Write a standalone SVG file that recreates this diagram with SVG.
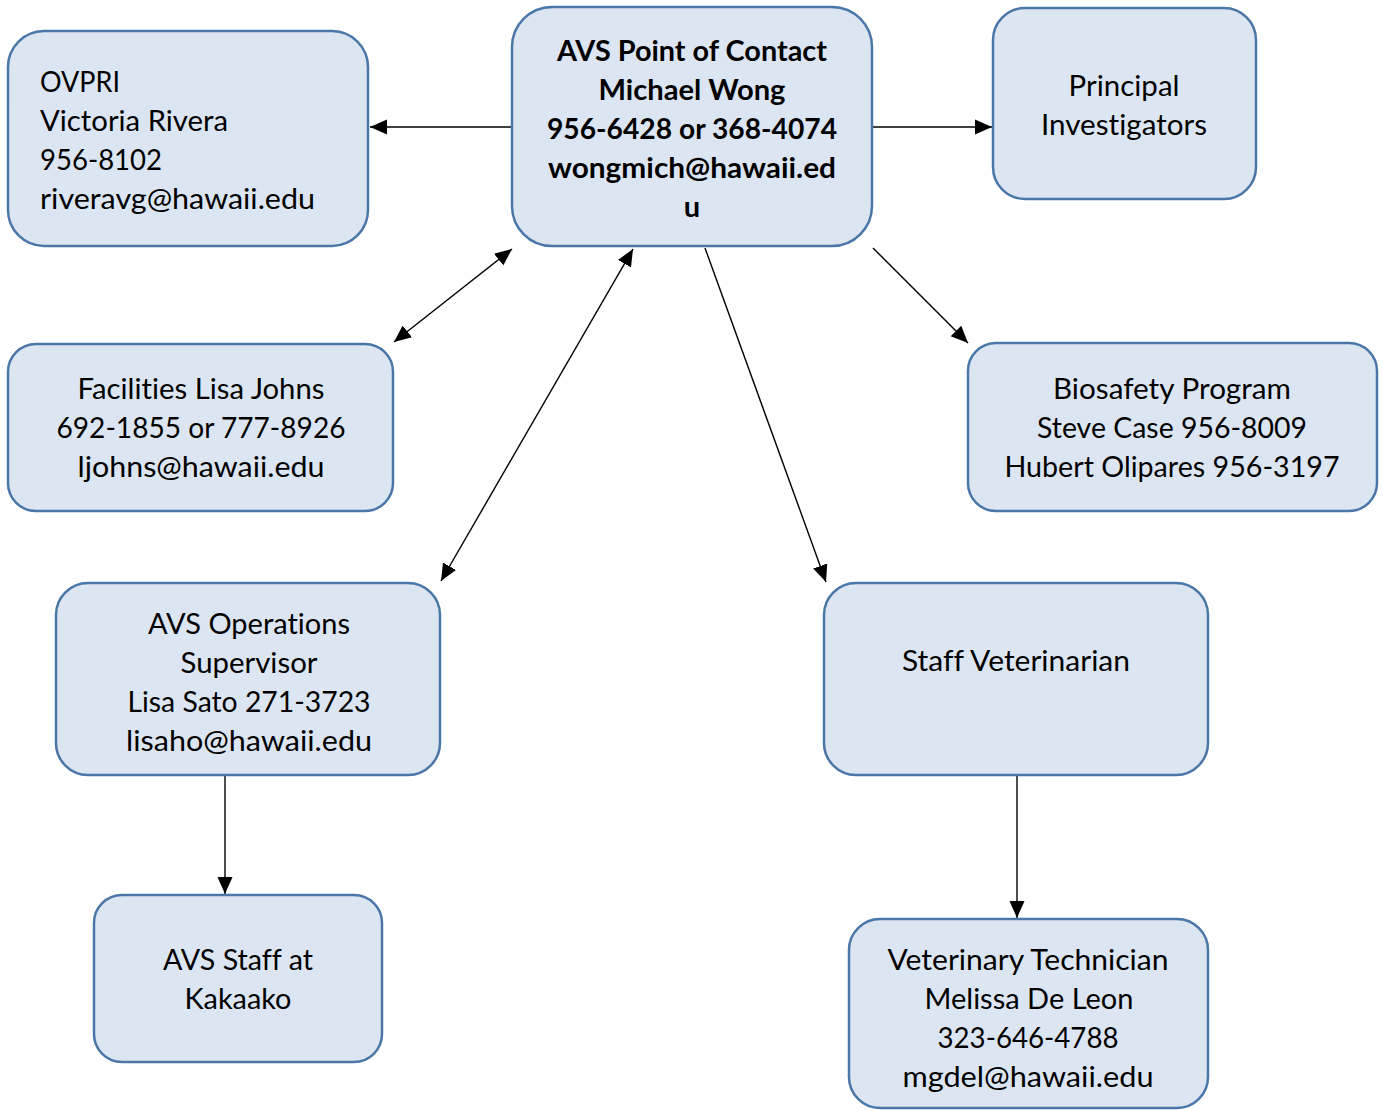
<svg xmlns="http://www.w3.org/2000/svg" width="1383" height="1110" viewBox="0 0 1383 1110">
<style>
.box{fill:#dce6f2;stroke:#4a77a8;stroke-width:2.5}
.t{font-family:Lato,"Open Sans",sans-serif;font-size:29px;fill:#000;font-variant-ligatures:none;font-feature-settings:"liga" 0}
.c{text-anchor:middle}
.b{font-weight:bold}
.ln{stroke:#000;stroke-width:1.4;fill:none}
</style>
<defs>
<marker id="ah" markerUnits="userSpaceOnUse" markerWidth="18" markerHeight="16" refX="17" refY="7.5" orient="auto-start-reverse" viewBox="0 0 18 15">
<path d="M0,0 L17,7.5 L0,15 Z" fill="#000"/>
</marker>
</defs>
<rect width="1383" height="1110" fill="#fff"/>
<g id="connectors">
<line class="ln" x1="512" y1="127" x2="370" y2="127" marker-end="url(#ah)"/>
<line class="ln" x1="872" y1="127" x2="992" y2="127" marker-end="url(#ah)"/>
<line class="ln" x1="512" y1="249" x2="394" y2="342" marker-start="url(#ah)" marker-end="url(#ah)"/>
<line class="ln" x1="633" y1="249" x2="441" y2="581" marker-start="url(#ah)" marker-end="url(#ah)"/>
<line class="ln" x1="705" y1="248" x2="826" y2="582" marker-end="url(#ah)"/>
<line class="ln" x1="873" y1="248" x2="968" y2="343" marker-end="url(#ah)"/>
<line class="ln" x1="225" y1="776" x2="225" y2="894" marker-end="url(#ah)"/>
<line class="ln" x1="1017" y1="776" x2="1017" y2="918" marker-end="url(#ah)"/>
</g>
<g id="poc">
<rect class="box" x="512" y="7" width="360" height="239" rx="40"/>
<text class="t c b" x="692" y="61" textLength="270" lengthAdjust="spacingAndGlyphs">AVS Point of Contact</text>
<text class="t c b" x="692" y="100" textLength="187" lengthAdjust="spacingAndGlyphs">Michael Wong</text>
<text class="t c b" x="692" y="139" textLength="290" lengthAdjust="spacingAndGlyphs">956-6428 or 368-4074</text>
<text class="t c b" x="692" y="178" textLength="288" lengthAdjust="spacingAndGlyphs">wongmich@hawaii.ed</text>
<text class="t c b" x="692" y="217">u</text>
</g>
<g id="ovpri">
<rect class="box" x="8" y="31" width="360" height="215" rx="36"/>
<text class="t" x="40" y="92" textLength="80" lengthAdjust="spacingAndGlyphs">OVPRI</text>
<text class="t" x="40" y="131" textLength="188" lengthAdjust="spacingAndGlyphs">Victoria Rivera</text>
<text class="t" x="40" y="170" textLength="122" lengthAdjust="spacingAndGlyphs">956-8102</text>
<text class="t" x="40" y="209" textLength="275" lengthAdjust="spacingAndGlyphs">riveravg@hawaii.edu</text>
</g>
<g id="pi">
<rect class="box" x="993" y="8" width="263" height="191" rx="32"/>
<text class="t c" x="1124" y="96" textLength="111" lengthAdjust="spacingAndGlyphs">Principal</text>
<text class="t c" x="1124" y="135" textLength="166" lengthAdjust="spacingAndGlyphs">Investigators</text>
</g>
<g id="facilities">
<rect class="box" x="8" y="344" width="385" height="167" rx="28"/>
<text class="t c" x="201" y="399" textLength="247" lengthAdjust="spacingAndGlyphs">Facilities Lisa Johns</text>
<text class="t c" x="201" y="438" textLength="289" lengthAdjust="spacingAndGlyphs">692-1855 or 777-8926</text>
<text class="t c" x="201" y="477" textLength="247" lengthAdjust="spacingAndGlyphs">ljohns@hawaii.edu</text>
</g>
<g id="biosafety">
<rect class="box" x="968" y="343" width="409" height="168" rx="28"/>
<text class="t c" x="1172" y="399" textLength="238" lengthAdjust="spacingAndGlyphs">Biosafety Program</text>
<text class="t c" x="1172" y="438" textLength="270" lengthAdjust="spacingAndGlyphs">Steve Case 956-8009</text>
<text class="t c" x="1172" y="477" textLength="335" lengthAdjust="spacingAndGlyphs">Hubert Olipares 956-3197</text>
</g>
<g id="ops">
<rect class="box" x="56" y="583" width="384" height="192" rx="32"/>
<text class="t c" x="249" y="634" textLength="202" lengthAdjust="spacingAndGlyphs">AVS Operations</text>
<text class="t c" x="249" y="673" textLength="137" lengthAdjust="spacingAndGlyphs">Supervisor</text>
<text class="t c" x="249" y="712" textLength="243" lengthAdjust="spacingAndGlyphs">Lisa Sato 271-3723</text>
<text class="t c" x="249" y="751" textLength="246" lengthAdjust="spacingAndGlyphs">lisaho@hawaii.edu</text>
</g>
<g id="staffvet">
<rect class="box" x="824" y="583" width="384" height="192" rx="32"/>
<text class="t c" x="1016" y="671" textLength="228" lengthAdjust="spacingAndGlyphs">Staff Veterinarian</text>
</g>
<g id="avsstaff">
<rect class="box" x="94" y="895" width="288" height="167" rx="28"/>
<text class="t c" x="238" y="970" textLength="150" lengthAdjust="spacingAndGlyphs">AVS Staff at</text>
<text class="t c" x="238" y="1009" textLength="107" lengthAdjust="spacingAndGlyphs">Kakaako</text>
</g>
<g id="vettech">
<rect class="box" x="849" y="919" width="359" height="189" rx="31"/>
<text class="t c" x="1028" y="970" textLength="281" lengthAdjust="spacingAndGlyphs">Veterinary Technician</text>
<text class="t c" x="1029" y="1009" textLength="209" lengthAdjust="spacingAndGlyphs">Melissa De Leon</text>
<text class="t c" x="1028" y="1048" textLength="181" lengthAdjust="spacingAndGlyphs">323-646-4788</text>
<text class="t c" x="1028" y="1087" textLength="251" lengthAdjust="spacingAndGlyphs">mgdel@hawaii.edu</text>
</g>
</svg>
